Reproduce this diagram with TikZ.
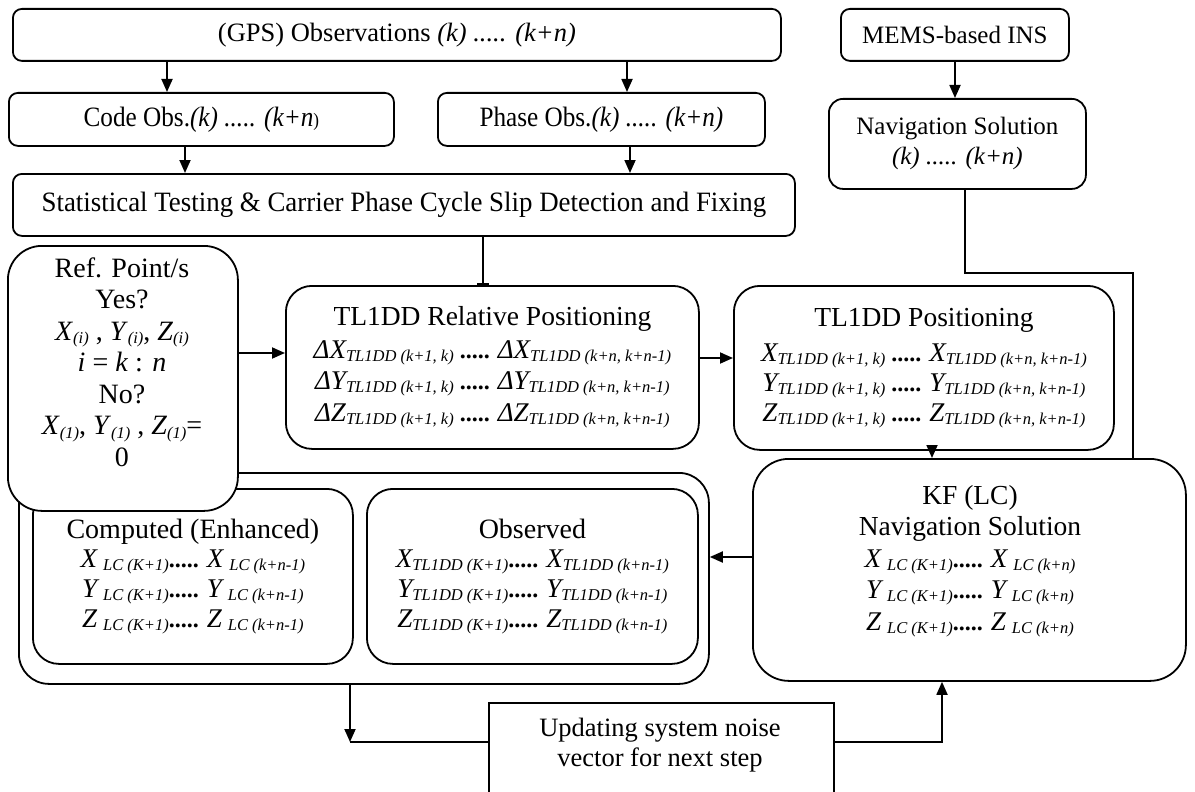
\documentclass[tikz,border=0pt]{standalone}
\usepackage{fontspec}
\setmainfont{Liberation Serif}
\usetikzlibrary{arrows.meta}
\newcommand\sbs[1]{\raisebox{-0.28ex}{\fontsize{16.5}{16.5}\selectfont\itshape #1}}
\newcommand\bg[1]{{\fontsize{27}{27}\selectfont\itshape #1}}
\newcommand\dts{\textbf{.....}}
\begin{document}
\begin{tikzpicture}[x=1pt,y=-1pt,
  rbox/.style={draw, line width=1.8pt, rounded corners=9pt, fill=white, inner sep=0pt, align=center,
    anchor=north west, font=\fontsize{25}{30}\selectfont},
  bigbox/.style={rbox, rounded corners=26pt},
  txt/.style={align=center, inner sep=0pt, font=\fontsize{24}{30}\selectfont},
  tms/.style={align=center, inner sep=0pt, font=\fontsize{28}{31.5}\selectfont},
  arr/.style={-{Triangle[length=13pt,width=11pt]}, line width=1.8pt},
  ln/.style={line width=1.8pt}]
\useasboundingbox (0,0) rectangle (1195,792);
% helper coordinates
\coordinate (x167) at (167,0);
\coordinate (x627) at (627,0);
\coordinate (x955) at (955,0);
\coordinate (x185) at (185,0);
\coordinate (x630) at (630,0);
\coordinate (x483) at (483,0);
\coordinate (x932) at (932,0);
\coordinate (x965) at (965,0);
\coordinate (x1133) at (1133,0);
\coordinate (x350) at (350,0);
\coordinate (x942) at (942,0);
\coordinate (y353) at (0,353);
\coordinate (y358) at (0,358);
\coordinate (y273) at (0,273);
\coordinate (y557) at (0,557);
\coordinate (y742) at (0,742);
% top row
\node[rbox, minimum width=768pt, minimum height=52pt, font=\fontsize{26.5}{30}\selectfont] (gps) at (12,8)
  {(GPS) Observations \textit{(k) ..... (k+n)}};
\node[rbox, minimum width=228pt, minimum height=52pt] (mems) at (840,8) {MEMS-based INS};
\node[rbox, minimum width=385pt, minimum height=53pt, font=\fontsize{28}{30}\selectfont] (code) at (8,92)
  {\scalebox{0.9}[1]{Code Obs.\textit{(k) ..... (k+n}{\fontsize{19}{19}\selectfont )}}};
\node[rbox, minimum width=327pt, minimum height=53pt, font=\fontsize{28}{30}\selectfont] (phase) at (437,92)
  {\scalebox{0.9}[1]{Phase Obs.\textit{(k) ..... (k+n)}}};
\node[rbox, minimum width=257pt, minimum height=90pt, rounded corners=14pt] (nav) at (828,98)
  {Navigation Solution\\ \textit{(k) ..... (k+n)}};
\node[rbox, minimum width=782pt, minimum height=62pt, font=\fontsize{28}{30}\selectfont] (stats) at (12,173)
  {\scalebox{0.96}[1]{Statistical Testing \& Carrier Phase Cycle Slip Detection and Fixing}};
% middle row
\node[bigbox, minimum width=413pt, minimum height=163pt, font=\fontsize{24}{31.5}\selectfont] (rel) at (285,285)
  {{\fontsize{27.5}{31}\selectfont TL1DD Relative Positioning}\\[1pt]
   \bg{ΔX}\sbs{TL1DD (k+1, k)} \dts{} \bg{ΔX}\sbs{TL1DD (k+n, k+n-1)}\\
   \bg{ΔY}\sbs{TL1DD (k+1, k)} \dts{} \bg{ΔY}\sbs{TL1DD (k+n, k+n-1)}\\
   \bg{ΔZ}\sbs{TL1DD (k+1, k)} \dts{} \bg{ΔZ}\sbs{TL1DD (k+n, k+n-1)}};
\node[bigbox, minimum width=380pt, minimum height=164pt, font=\fontsize{24}{30}\selectfont] (pos) at (733,285)
  {{\fontsize{27.5}{31}\selectfont TL1DD Positioning}\\[5pt]
   \bg{X}\sbs{TL1DD (k+1, k)} \dts{} \bg{X}\sbs{TL1DD (k+n, k+n-1)}\\
   \bg{Y}\sbs{TL1DD (k+1, k)} \dts{} \bg{Y}\sbs{TL1DD (k+n, k+n-1)}\\
   \bg{Z}\sbs{TL1DD (k+1, k)} \dts{} \bg{Z}\sbs{TL1DD (k+n, k+n-1)}};
% lower group
\node[bigbox, minimum width=690pt, minimum height=211pt, rounded corners=30pt] (cont) at (18,472) {};
\node[bigbox, minimum width=320pt, minimum height=175pt, font=\fontsize{24}{30}\selectfont] (comp) at (32,488)
  {{\fontsize{28}{31}\selectfont Computed (Enhanced)}\\[-1pt]
   \bg{X} \sbs{LC (K+1)}\dts{} \bg{X} \sbs{LC (k+n-1)}\\
   \bg{Y} \sbs{LC (K+1)}\dts{} \bg{Y} \sbs{LC (k+n-1)}\\
   \bg{Z} \sbs{LC (K+1)}\dts{} \bg{Z} \sbs{LC (k+n-1)}};
\node[bigbox, minimum width=331pt, minimum height=175pt, font=\fontsize{24}{30}\selectfont] (obs) at (366,488)
  {{\fontsize{28}{31}\selectfont Observed}\\[-1pt]
   \bg{X}\sbs{TL1DD (K+1)}\dts{} \bg{X}\sbs{TL1DD (k+n-1)}\\
   \bg{Y}\sbs{TL1DD (K+1)}\dts{} \bg{Y}\sbs{TL1DD (k+n-1)}\\
   \bg{Z}\sbs{TL1DD (K+1)}\dts{} \bg{Z}\sbs{TL1DD (k+n-1)}};
\node[bigbox, minimum width=230pt, minimum height=265pt, rounded corners=34pt] (ref) at (7,245) {};
\node[tms] (reftxt) at (122,362)
  {Ref. Point/s\\ Yes?\\
   \textit{X}\sbs{(i)} , \textit{Y}\sbs{(i)}, \textit{Z}\sbs{(i)}\\
   \textit{i} = \textit{k} : \textit{n}\\ No?\\
   \textit{X}\sbs{(1)}, \textit{Y}\sbs{(1)} , \textit{Z}\sbs{(1)}=\\ 0};
\node[bigbox, minimum width=433pt, minimum height=222pt, rounded corners=36pt] (kf) at (752,458) {};
\node[txt, font=\fontsize{24}{31.5}\selectfont] (kftxt) at (970,561)
  {{\fontsize{27.5}{31}\selectfont KF (LC)}\\ {\fontsize{27.5}{31}\selectfont Navigation Solution}\\
   \bg{X} \sbs{LC (K+1)}\dts{} \bg{X} \sbs{LC (k+n)}\\
   \bg{Y} \sbs{LC (K+1)}\dts{} \bg{Y} \sbs{LC (k+n)}\\
   \bg{Z} \sbs{LC (K+1)}\dts{} \bg{Z} \sbs{LC (k+n)}};
\node[draw, line width=1.8pt, fill=white, anchor=north west, minimum width=345pt, minimum height=110pt,
  inner sep=0pt] (upd) at (488,702) {};
\node[tms, font=\fontsize{26.5}{30}\selectfont] (updtxt) at (660,745)
  {Updating system noise\\ vector for next step};
% connectors
\draw[arr] (gps.south -| x167) -- (code.north -| x167);
\draw[arr] (gps.south -| x627) -- (phase.north -| x627);
\draw[arr] (mems.south -| x955) -- (nav.north -| x955);
\draw[arr] (code.south -| x185) -- (stats.north -| x185);
\draw[arr] (phase.south -| x630) -- (stats.north -| x630);
\draw[ln, -{Bar[width=12pt]}] (stats.south -| x483) -- (rel.north -| x483);
\draw[arr] (ref.east |- y353) -- (rel.west |- y353);
\draw[arr] (rel.east |- y358) -- (pos.west |- y358);
\draw[ln] (nav.south -| x965) -- (x965 |- y273) -- (x1133 |- y273) -- (kf.north -| x1133);
\draw[arr] (pos.south -| x932) -- (kf.north -| x932);
\draw[arr] (kf.west |- y557) -- (cont.east |- y557);
\draw[arr] (cont.south -| x350) -- (x350 |- y742);
\draw[ln] (x350 |- y742) -- (upd.west |- y742);
\draw[arr] (upd.east |- y742) -- (x942 |- y742) -- (kf.south -| x942);
\end{tikzpicture}
\end{document}
